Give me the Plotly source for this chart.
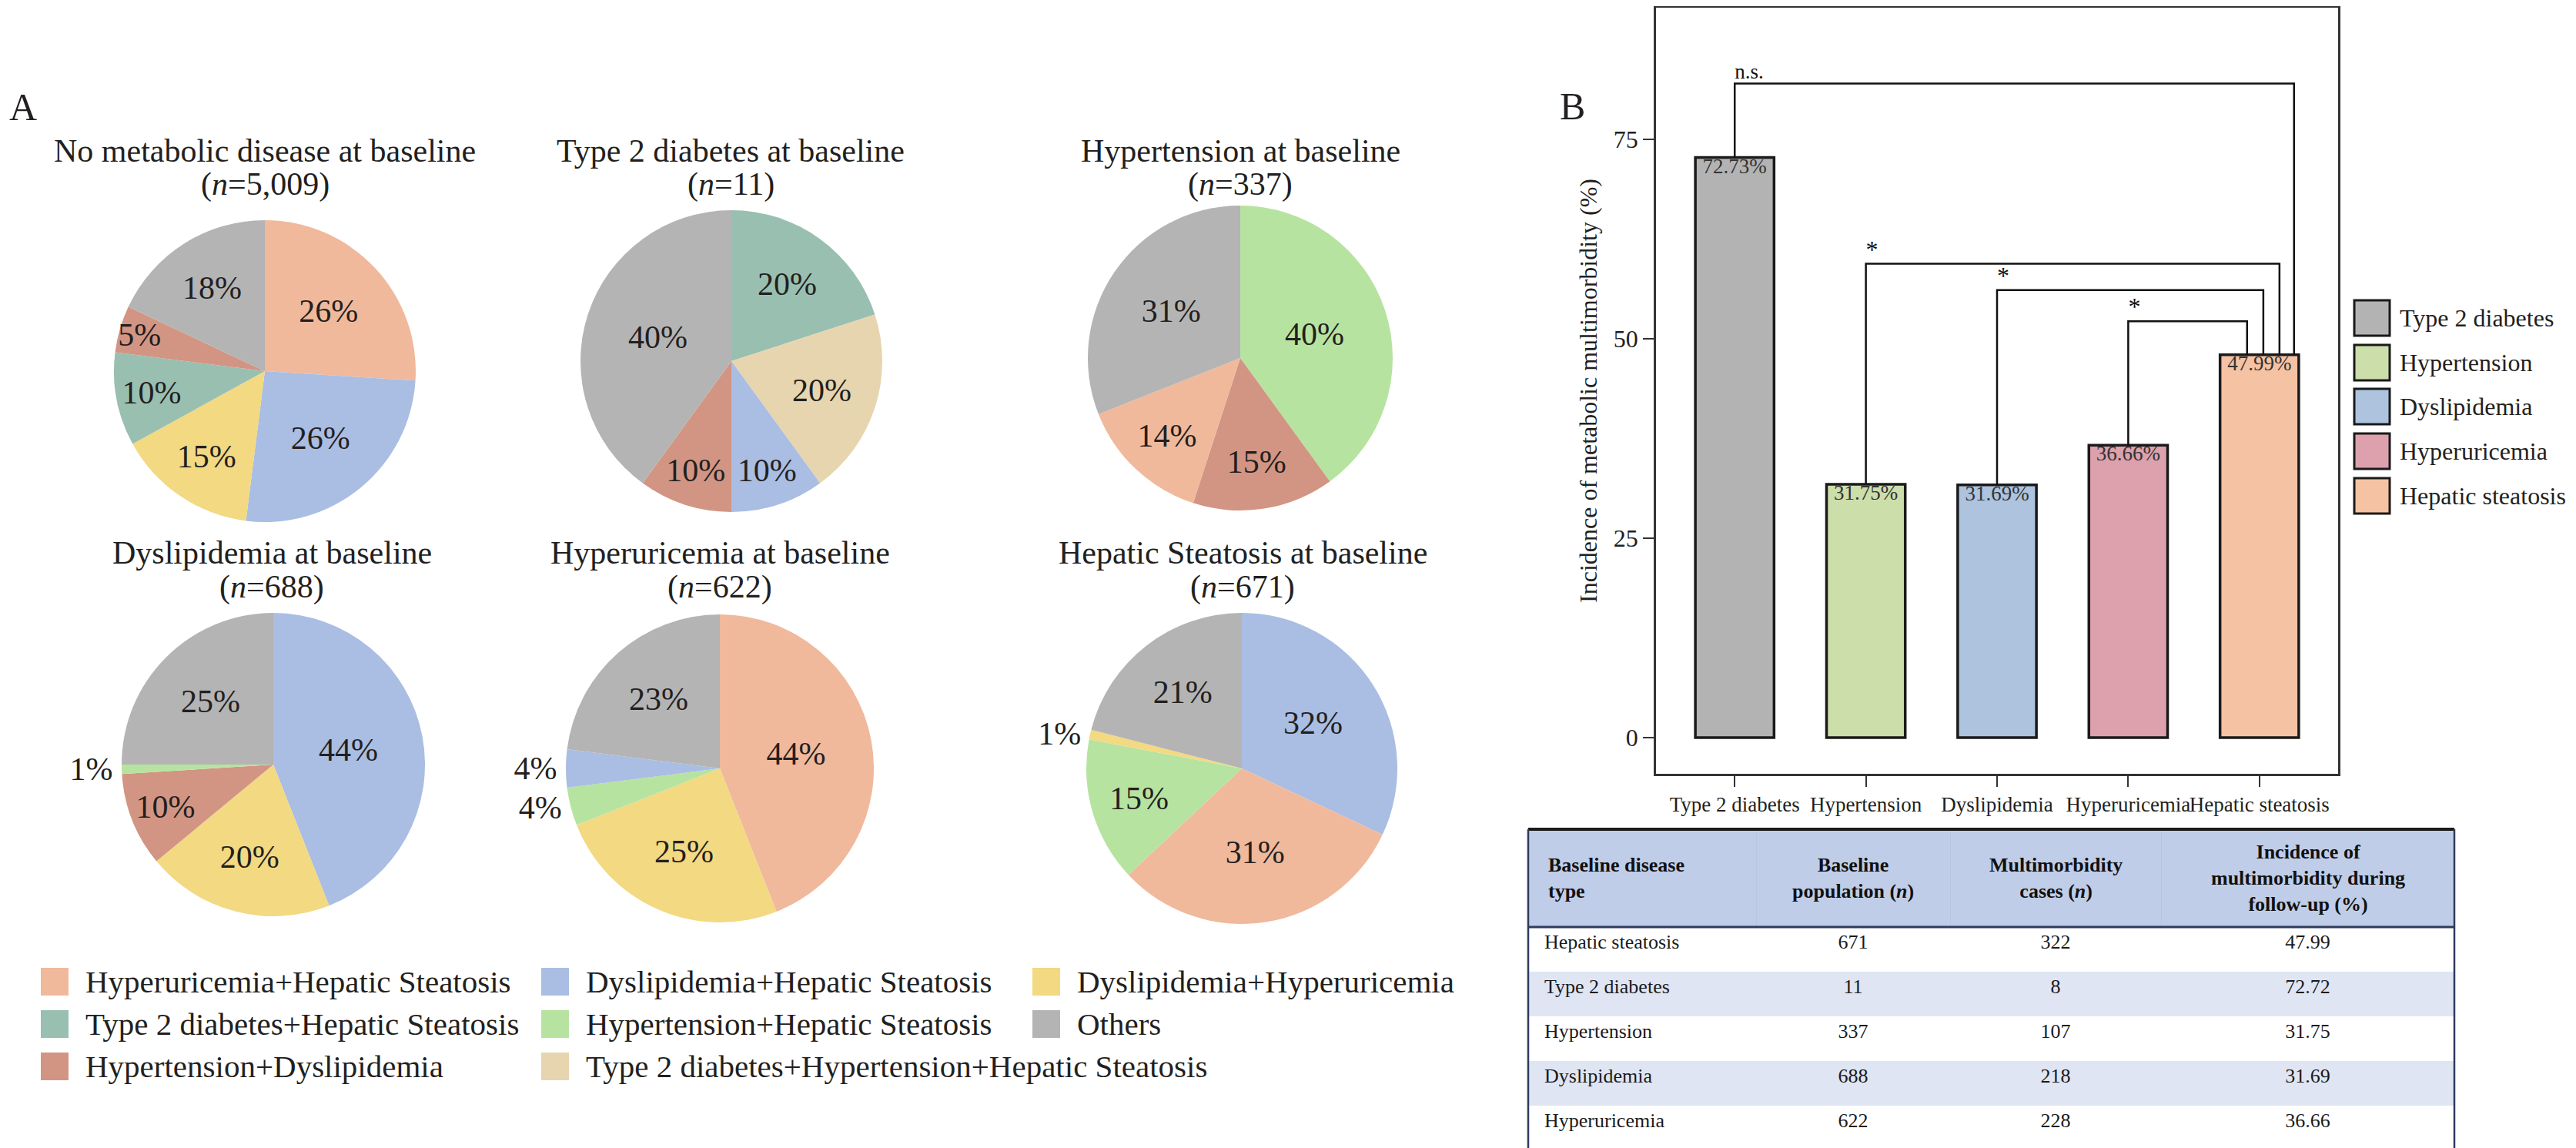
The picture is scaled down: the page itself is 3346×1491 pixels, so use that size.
import plotly.graph_objects as go

W, H = 3346, 1491
FONT = "Liberation Serif, Times New Roman, serif"
TXT = "#231f20"

# ---------------- Panel A data ----------------
combo_labels = [
    "Hyperuricemia+Hepatic Steatosis", "Dyslipidemia+Hepatic Steatosis", "Dyslipidemia+Hyperuricemia",
    "Type 2 diabetes+Hepatic Steatosis", "Hypertension+Hepatic Steatosis", "Others",
    "Hypertension+Dyslipidemia", "Type 2 diabetes+Hypertension+Hepatic Steatosis",
]
combo_colors = ["#F0B99C", "#AABDE3", "#F2D982", "#99BFB1", "#B7E3A0", "#B4B4B4", "#D29583", "#E6D5AF"]
color_map = dict(zip(combo_labels, combo_colors))

pie_titles = ["No metabolic disease at baseline", "Type 2 diabetes at baseline", "Hypertension at baseline",
              "Dyslipidemia at baseline", "Hyperuricemia at baseline", "Hepatic Steatosis at baseline"]
pie_n = ["5,009", "11", "337", "688", "622", "671"]

pie1_labels = ["Hyperuricemia+Hepatic Steatosis", "Dyslipidemia+Hepatic Steatosis", "Dyslipidemia+Hyperuricemia",
               "Type 2 diabetes+Hepatic Steatosis", "Hypertension+Dyslipidemia", "Others"]
pie1_values = [26, 26, 15, 10, 5, 18]

pie2_labels = ["Type 2 diabetes+Hepatic Steatosis", "Type 2 diabetes+Hypertension+Hepatic Steatosis",
               "Dyslipidemia+Hepatic Steatosis", "Hypertension+Dyslipidemia", "Others"]
pie2_values = [20, 20, 10, 10, 40]

pie3_labels = ["Hypertension+Hepatic Steatosis", "Hypertension+Dyslipidemia",
               "Hyperuricemia+Hepatic Steatosis", "Others"]
pie3_values = [40, 15, 14, 31]

pie4_labels = ["Dyslipidemia+Hepatic Steatosis", "Dyslipidemia+Hyperuricemia", "Hypertension+Dyslipidemia",
               "Hypertension+Hepatic Steatosis", "Others"]
pie4_values = [44, 20, 10, 1, 25]

pie5_labels = ["Hyperuricemia+Hepatic Steatosis", "Dyslipidemia+Hyperuricemia", "Hypertension+Hepatic Steatosis",
               "Dyslipidemia+Hepatic Steatosis", "Others"]
pie5_values = [44, 25, 4, 4, 23]

pie6_labels = ["Dyslipidemia+Hepatic Steatosis", "Hyperuricemia+Hepatic Steatosis", "Hypertension+Hepatic Steatosis",
               "Dyslipidemia+Hyperuricemia", "Others"]
pie6_values = [32, 31, 15, 1, 21]

# ---------------- Panel B data ----------------
bar_categories = ["Type 2 diabetes", "Hypertension", "Dyslipidemia", "Hyperuricemia", "Hepatic steatosis"]
bar_values = [72.73, 31.75, 31.69, 36.66, 47.99]
bar_colors = ["#B3B3B3", "#CCDEAA", "#ADC3DE", "#DCA1AD", "#F5C2A3"]
y_ticks = [0, 25, 50, 75]

bracket_left = ["Type 2 diabetes", "Hypertension", "Dyslipidemia", "Hyperuricemia"]
bracket_right = "Hepatic steatosis"
bracket_height = [82.0, 59.4, 56.1, 52.2]
bracket_label = ["n.s.", "*", "*", "*"]

# ---------------- Table data ----------------
table_header = ["<b>Baseline disease<br>type</b>", "<b>Baseline<br>population (<i>n</i>)</b>",
                "<b>Multimorbidity<br>cases (<i>n</i>)</b>",
                "<b>Incidence of<br>multimorbidity during<br>follow-up (%)</b>"]
table_type = ["Hepatic steatosis", "Type 2 diabetes", "Hypertension", "Dyslipidemia", "Hyperuricemia"]
table_pop = [671, 11, 337, 688, 622]
table_cases = [322, 8, 107, 218, 228]
table_incidence = ["47.99", "72.72", "31.75", "31.69", "36.66"]

# ---------------- layout helpers (pixel geometry) ----------------
def fx(x):
    return x / W


def fy(y):
    return 1 - y / H


pie_geom = [(336, 474, 196), (942, 461, 196), (1603, 457, 198),
            (347, 985, 197), (927, 990, 200), (1605, 990, 202)]
title_rows = [(188, 231), (188, 231), (188, 231), (710, 755), (710, 755), (710, 755)]
title_cx = [336, 941, 1603, 345, 927, 1606]

fig = go.Figure()

pies = [(pie1_labels, pie1_values), (pie2_labels, pie2_values), (pie3_labels, pie3_values),
        (pie4_labels, pie4_values), (pie5_labels, pie5_values), (pie6_labels, pie6_values)]

annotations = []
shapes = []

for i, (labs, vals) in enumerate(pies):
    cx, cy, r = pie_geom[i]
    fig.add_trace(go.Pie(
        labels=labs, values=vals, sort=False, direction="clockwise", rotation=0,
        marker=dict(colors=[color_map[l] for l in labs], line=dict(width=0)),
        texttemplate="%{value}%", textinfo="none",
        textposition=["outside" if v < 5 else "inside" for v in vals],
        insidetextorientation="horizontal",
        textfont=dict(family=FONT, size=42, color=TXT),
        domain=dict(x=[fx(cx - r), fx(cx + r)], y=[fy(cy + r), fy(cy - r)]),
        showlegend=False, hoverinfo="label+percent",
    ))
    y1, y2 = title_rows[i]
    annotations.append(dict(x=fx(title_cx[i]), y=fy(y1), xref="paper", yref="paper", showarrow=False,
                            text=pie_titles[i], font=dict(family=FONT, size=42, color=TXT),
                            xanchor="center", yanchor="middle"))
    annotations.append(dict(x=fx(title_cx[i]), y=fy(y2), xref="paper", yref="paper", showarrow=False,
                            text="(<i>n</i>=" + pie_n[i] + ")", font=dict(family=FONT, size=42, color=TXT),
                            xanchor="center", yanchor="middle"))

# Panel letters
annotations.append(dict(x=fx(22), y=fy(131), xref="paper", yref="paper", showarrow=False, text="A",
                        font=dict(family=FONT, size=50, color=TXT), xanchor="center", yanchor="middle"))
annotations.append(dict(x=fx(2034), y=fy(130), xref="paper", yref="paper", showarrow=False, text="B",
                        font=dict(family=FONT, size=50, color=TXT), xanchor="center", yanchor="middle"))

# Pie legend (3 columns)
leg_cols = [45, 695, 1333]
leg_rows = [1267, 1322, 1377]
sw = 36
for k, lab in enumerate(combo_labels):
    x0 = leg_cols[k % 3]
    yc = leg_rows[k // 3]
    shapes.append(dict(type="rect", xref="paper", yref="paper", x0=fx(x0), x1=fx(x0 + sw),
                       y0=fy(yc + sw / 2), y1=fy(yc - sw / 2), fillcolor=color_map[lab], line=dict(width=0)))
    annotations.append(dict(x=fx(x0 + 56), y=fy(yc), xref="paper", yref="paper", showarrow=False, text=lab,
                            font=dict(family=FONT, size=41, color=TXT), xanchor="left", yanchor="middle"))

# ---------------- Panel B ----------------
bar_x = list(range(len(bar_categories)))
fig.add_trace(go.Bar(
    x=bar_x, y=bar_values, width=0.6,
    marker=dict(color=bar_colors, line=dict(color="#1a1a1a", width=3.5)),
    showlegend=False, xaxis="x", yaxis="y", hoverinfo="y",
))
fig.add_trace(go.Scatter(
    x=bar_x, y=bar_values, mode="text", text=[f"{v:.2f}%" for v in bar_values],
    textposition="bottom center", textfont=dict(family=FONT, size=27, color="#333333"),
    showlegend=False, hoverinfo="skip", xaxis="x", yaxis="y",
))

right_offsets = [0.264, 0.153, 0.03, -0.094]
xr_base = bar_categories.index(bracket_right)
yr = bar_values[xr_base]
for j, lab in enumerate(bracket_left):
    xl = bar_categories.index(lab)
    yl = bar_values[xl]
    h = bracket_height[j]
    xr = xr_base + right_offsets[j]
    fig.add_trace(go.Scatter(
        x=[xl, xl, xr, xr], y=[yl, h, h, yr], mode="lines",
        line=dict(color="#111111", width=2.5), showlegend=False, hoverinfo="skip",
        xaxis="x", yaxis="y",
    ))
    fig.add_trace(go.Scatter(
        x=[xl], y=[h], mode="text", text=[bracket_label[j]], textposition="top right",
        textfont=dict(family=FONT, size=27 if bracket_label[j] == "n.s." else 32, color="#111111"),
        showlegend=False, hoverinfo="skip", xaxis="x", yaxis="y",
    ))

# Panel B legend
bl_x = 3050
bl_rows = [405, 463, 520, 578, 636]
bsw = 46
for k, lab in enumerate(bar_categories):
    yc = bl_rows[k]
    shapes.append(dict(type="rect", xref="paper", yref="paper", x0=fx(bl_x), x1=fx(bl_x + bsw),
                       y0=fy(yc + bsw / 2), y1=fy(yc - bsw / 2), fillcolor=bar_colors[k],
                       line=dict(color="#1a1a1a", width=3)))
    annotations.append(dict(x=fx(3107), y=fy(yc), xref="paper", yref="paper", showarrow=False, text=lab,
                            font=dict(family=FONT, size=32, color=TXT), xanchor="left", yanchor="middle"))

# ---------------- Table ----------------
stripe = ["#FFFFFF", "#DFE5F3", "#FFFFFF", "#DFE5F3", "#FFFFFF"]
tx0, tx1, ty0, ty1, thead = 1977, 3180, 1069, 1489, 1196
col_w = [296, 252, 274, 381]
fig.add_trace(go.Table(
    domain=dict(x=[fx(tx0), fx(tx1)], y=[fy(ty1), fy(ty0)]),
    columnwidth=col_w,
    header=dict(values=[""] * 4,
                fill=dict(color="#C0CDE8"), line=dict(color="#B8C6E3", width=1),
                font=dict(family=FONT, size=26, color="#111111"), height=127),
    cells=dict(values=[["\u2002" + t for t in table_type], table_pop, table_cases, table_incidence],
               align=["left", "center", "center", "center"],
               fill=dict(color=[stripe] * 4), line=dict(color=[stripe] * 4, width=1),
               font=dict(family=FONT, size=26, color="#1a1a1a"), height=58),
))
# header text (centered line by line like the original)
scale = (tx1 - tx0) / sum(col_w)
edges = [tx0]
for w in col_w:
    edges.append(edges[-1] + w * scale)
for c, htxt in enumerate(table_header):
    if c == 0:
        ax, anc, al = tx0 + 24, "left", "left"
    else:
        ax, anc, al = (edges[c] + edges[c + 1]) / 2, "center", "center"
    annotations.append(dict(x=fx(ax), y=fy((ty0 + thead) / 2), xref="paper", yref="paper", showarrow=False,
                            text=htxt, align=al, xanchor=anc, yanchor="middle",
                            font=dict(family=FONT, size=26, color="#111111")))

navy = "#2E3B5E"
shapes += [
    dict(type="line", xref="paper", yref="paper", x0=fx(tx0), x1=fx(tx1), y0=fy(ty0), y1=fy(ty0),
         line=dict(color="#1a1a1a", width=4)),
    dict(type="line", xref="paper", yref="paper", x0=fx(tx0), x1=fx(tx1), y0=fy(thead), y1=fy(thead),
         line=dict(color=navy, width=3)),
    dict(type="line", xref="paper", yref="paper", x0=fx(tx0), x1=fx(tx1), y0=fy(ty1), y1=fy(ty1),
         line=dict(color=navy, width=3)),
    dict(type="line", xref="paper", yref="paper", x0=fx(tx0), x1=fx(tx0), y0=fy(ty0), y1=fy(ty1),
         line=dict(color=navy, width=2.5)),
    dict(type="line", xref="paper", yref="paper", x0=fx(tx1), x1=fx(tx1), y0=fy(ty0), y1=fy(ty1),
         line=dict(color=navy, width=2.5)),
]

axis_common = dict(showline=True, mirror=True, linecolor="#333333", linewidth=2.5, ticks="outside",
                   ticklen=14, tickwidth=2, tickcolor="#333333", showgrid=False, zeroline=False)

fig.update_layout(
    width=W, height=H, margin=dict(l=0, r=0, t=0, b=0),
    paper_bgcolor="white", plot_bgcolor="white",
    font=dict(family=FONT, color=TXT),
    uniformtext=dict(mode="show", minsize=42),
    xaxis=dict(domain=[fx(2143), fx(3029)], range=[-0.6, 4.6], tickvals=bar_x, ticktext=bar_categories,
               tickangle=0, tickfont=dict(family=FONT, size=27, color=TXT), anchor="y", **axis_common),
    yaxis=dict(domain=[fy(997), fy(2)], range=[-4.54, 91.5], tickvals=y_ticks,
               tickfont=dict(family=FONT, size=32, color=TXT), anchor="x",
               title=dict(text="Incidence of metabolic multimorbidity (%)",
                          font=dict(family=FONT, size=32, color=TXT), standoff=12),
               **axis_common),
    annotations=annotations, shapes=shapes,
)

fig.write_html("out.html")
